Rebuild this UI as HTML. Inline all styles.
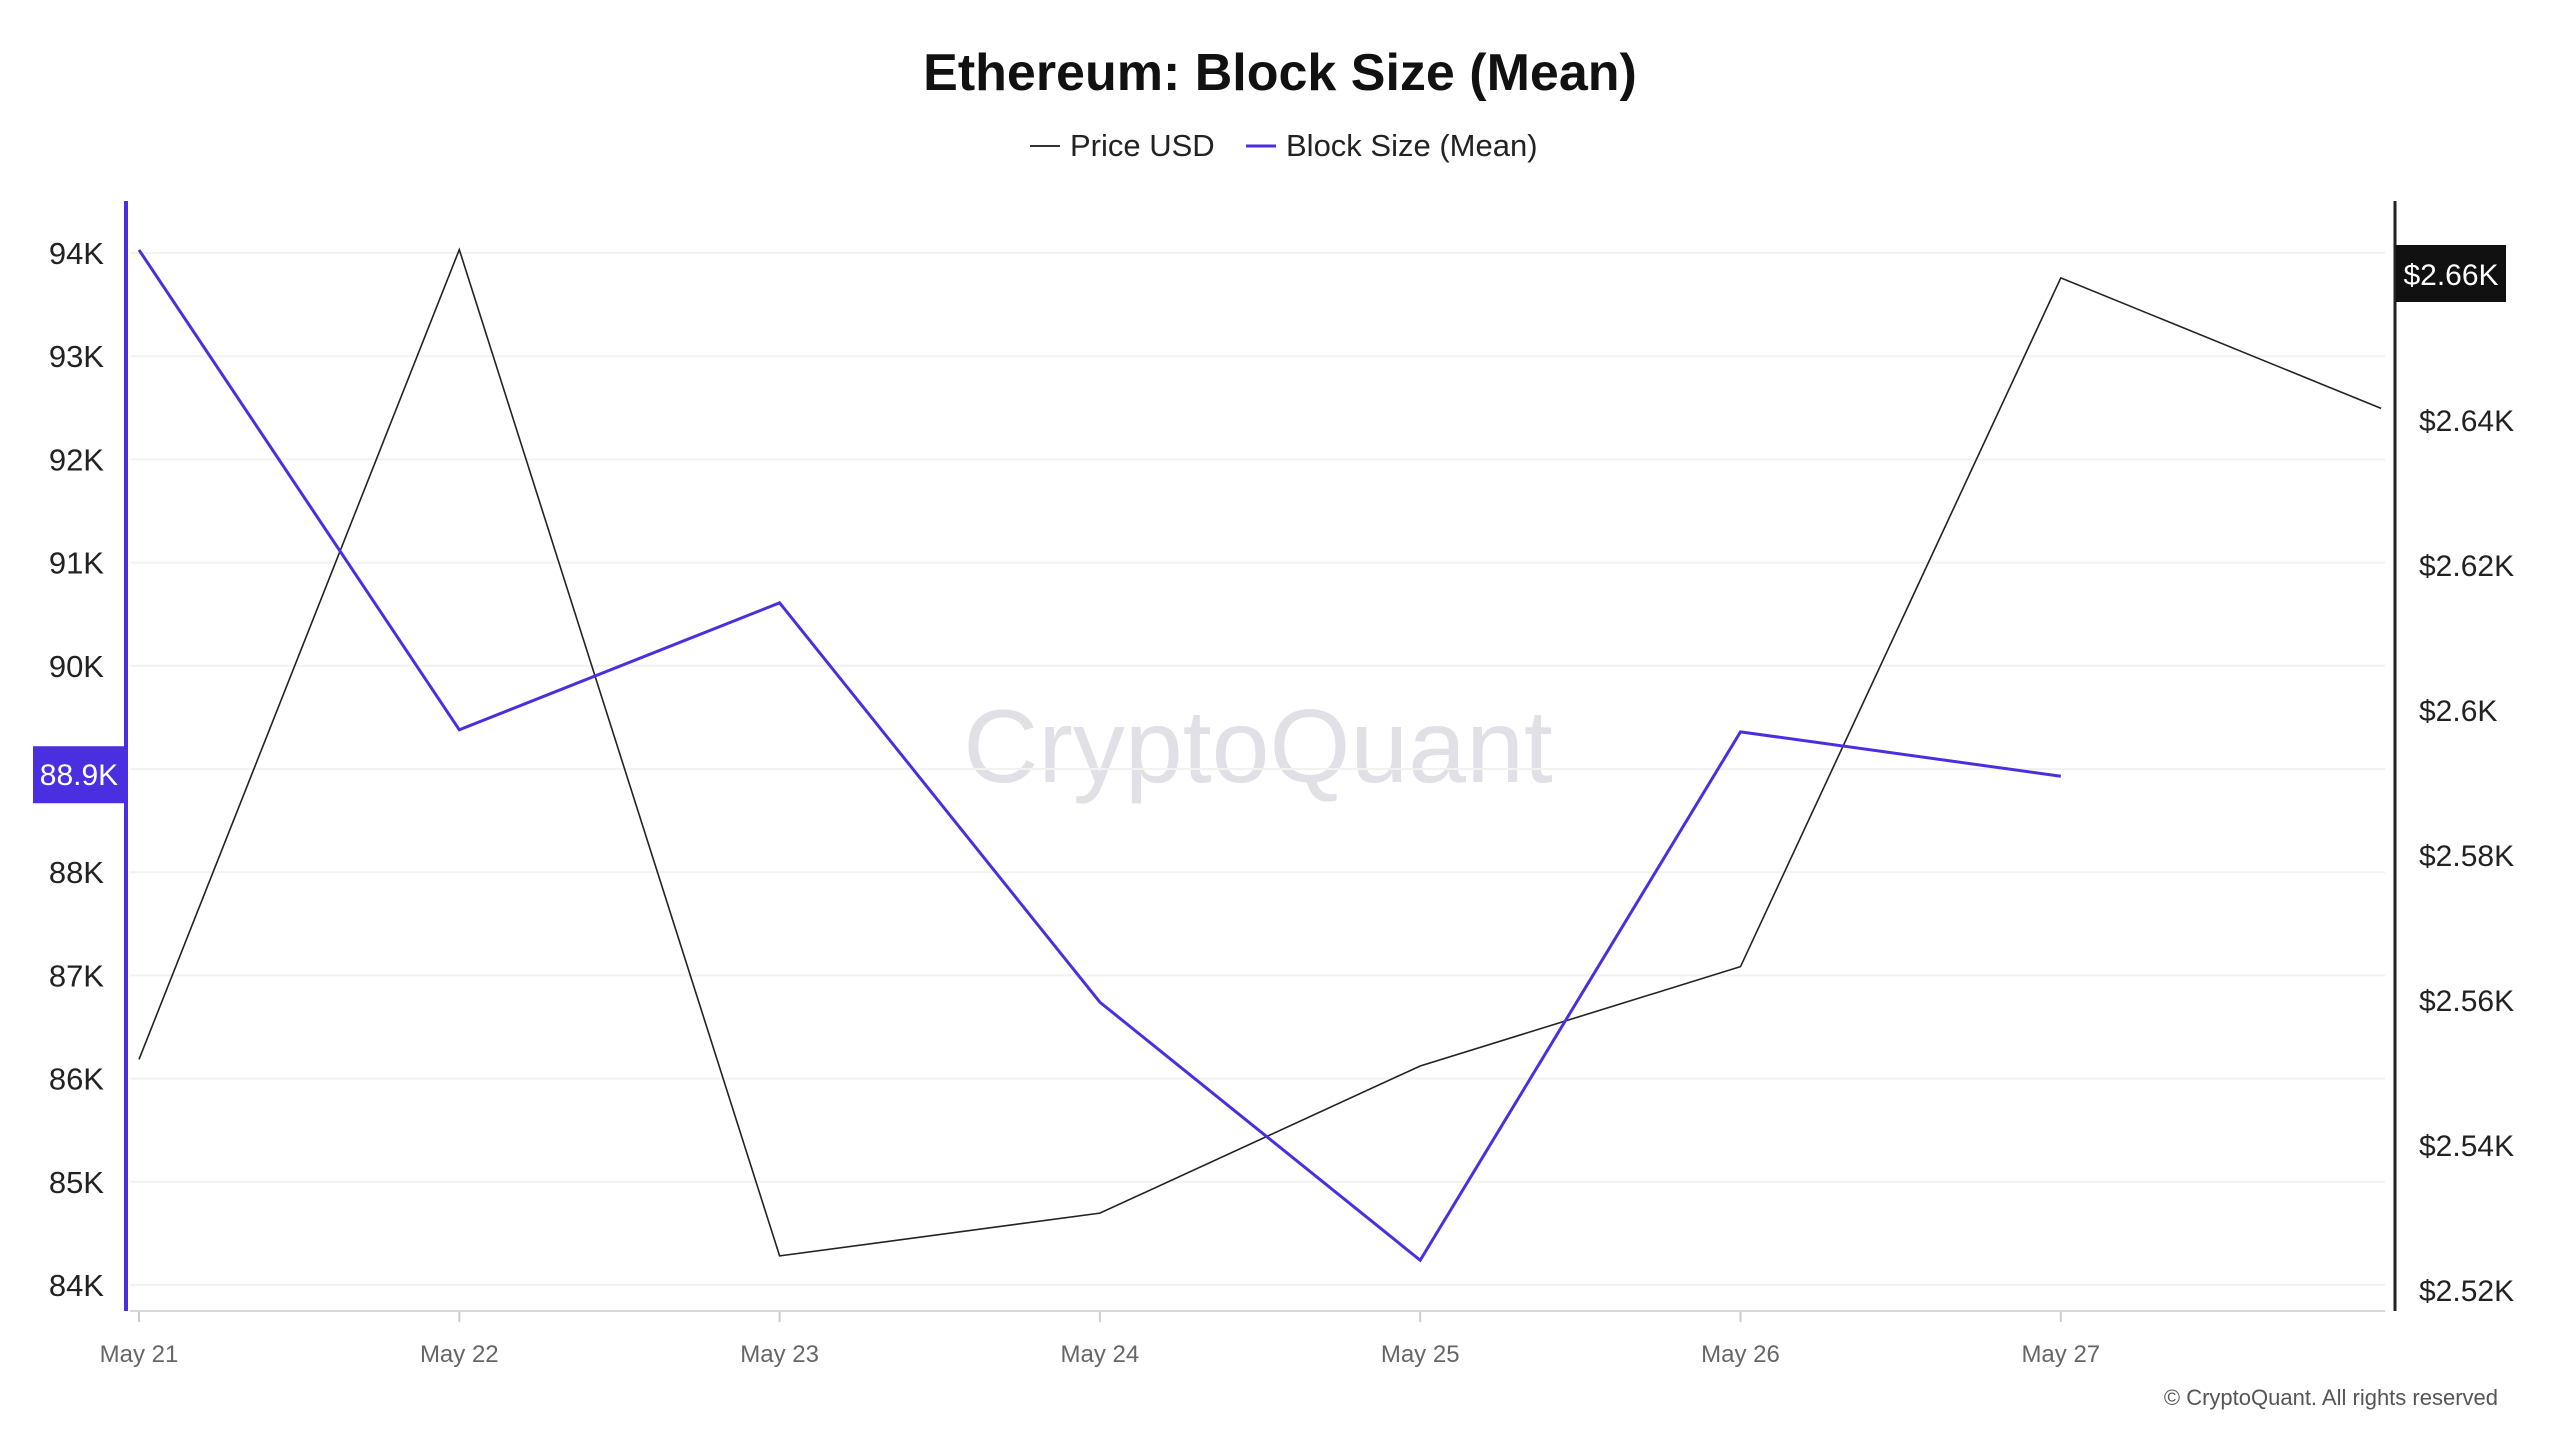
<!DOCTYPE html>
<html><head><meta charset="utf-8"><style>
html,body{margin:0;padding:0;background:#fff;}
svg{display:block;font-family:"Liberation Sans",sans-serif;}
</style></head><body>
<svg id="chart" width="2560" height="1440" viewBox="0 0 2560 1440">
<text x="1280" y="90" text-anchor="middle" font-size="52" font-weight="bold" fill="#111">Ethereum: Block Size (Mean)</text>
<g>
<g><line x1="1030" y1="146" x2="1060" y2="146" stroke="#333" stroke-width="2"/><text x="1070" y="156" font-size="31" fill="#222">Price USD</text></g>
<g><line x1="1246" y1="146" x2="1276" y2="146" stroke="#4a2fe0" stroke-width="3"/><text x="1286" y="156" font-size="31" fill="#222">Block Size (Mean)</text></g>
</g>
<text x="1258" y="782" text-anchor="middle" font-size="104" fill="#e0e0e6">CryptoQuant</text>
<g id="grid"></g><g id="marks"></g><g id="axes"></g>
<text x="2498" y="1405" text-anchor="end" font-size="22" fill="#555">© CryptoQuant. All rights reserved</text>
</svg>
<script>
const categories=["May 21","May 22","May 23","May 24","May 25","May 26","May 27","May 28"];
const blockSize=[94.03,89.38,90.61,86.74,84.24,89.36,88.93];
const price=[2.5518,2.6635,2.5247,2.5306,2.5509,2.5646,2.6596,2.6416];
const leftTicks=[84,85,86,87,88,89,90,91,92,93,94];
const leftTickLabels=["84K","85K","86K","87K","88K","","90K","91K","92K","93K","94K"];
const rightTicks=[2.52,2.54,2.56,2.58,2.6,2.62,2.64];
const rightTickLabels=["$2.52K","$2.54K","$2.56K","$2.58K","$2.6K","$2.62K","$2.64K"];
const NS="http://www.w3.org/2000/svg";
const x=i=>139+i*320.3;
const yL=v=>253+(94-v)*103.2;
const yR=v=>1290-(v-2.52)/0.02*145;
function mk(tag,attrs,parent,text){const e=document.createElementNS(NS,tag);for(const k in attrs)e.setAttribute(k,attrs[k]);if(text!==undefined)e.textContent=text;document.getElementById(parent).appendChild(e);return e;}
leftTicks.forEach((t,i)=>{
 const g=mk('line',{x1:130,x2:2385,y1:yL(t),y2:yL(t),stroke:'#f2f2f2','stroke-width':2},'grid');
 
 
 if(leftTickLabels[i]){const l=mk('text',{x:104,y:yL(t)+11,'text-anchor':'end','font-size':31,fill:'#222'},'axes',leftTickLabels[i]);
 
 }
});
rightTicks.forEach((t,i)=>{
 const l=mk('text',{x:2419,y:yR(t)+11,'font-size':30,fill:'#222'},'axes',rightTickLabels[i]);
 
 
});
categories.slice(0,7).forEach((c,i)=>{
 const l=mk('text',{x:x(i),y:1362,'text-anchor':'middle','font-size':24,fill:'#666'},'axes',c);
 
 
 const t=mk('line',{x1:x(i),x2:x(i),y1:1311,y2:1322,stroke:'#ccc','stroke-width':2},'axes');
 
 
});
let a=mk('line',{x1:130,x2:2385,y1:1311,y2:1311,stroke:'#d8d8d8','stroke-width':2},'axes');


a=mk('line',{x1:126,x2:126,y1:201,y2:1311,stroke:'#4a2fe0','stroke-width':4},'axes');


a=mk('line',{x1:2395,x2:2395,y1:201,y2:1311,stroke:'#222','stroke-width':3},'axes');


let p=mk('polyline',{points:price.map((v,i)=>x(i)+','+yR(v)).join(' '),fill:'none',stroke:'#222','stroke-width':1.6},'marks');


p=mk('polyline',{points:blockSize.map((v,i)=>x(i)+','+yL(v)).join(' '),fill:'none',stroke:'#4a2fe0','stroke-width':3},'marks');


const lastB=blockSize[blockSize.length-1];
let b=mk('rect',{x:33,y:yL(lastB)-30,width:93,height:57,fill:'#4a2fe0'},'axes');


b=mk('text',{x:79,y:yL(lastB)+9,'text-anchor':'middle','font-size':30,fill:'#fff'},'axes',lastB.toFixed(1)+'K');


b=mk('rect',{x:2396,y:245,width:110,height:57,fill:'#111'},'axes');


b=mk('text',{x:2451,y:285,'text-anchor':'middle','font-size':30,fill:'#fff'},'axes','$2.66K');


</script>
</body></html>
